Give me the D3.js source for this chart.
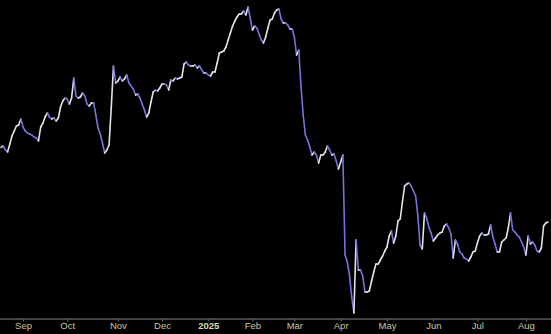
<!DOCTYPE html>
<html>
<head>
<meta charset="utf-8">
<script src="https://cdn.jsdelivr.net/npm/d3@7"></script>
<style>
    html, body { margin: 0; padding: 0; background: #000; }
    #price_chart { width: 551px; height: 334px; }
</style>
</head>
<body>
<div id="price_chart"></div>
<script>
// daily closes, one per trading day (19 Aug 2024 - 15 Aug 2025)
var closes = [
    186.3, 187, 185, 184, 188, 192, 194.5, 197, 197.5, 200.5,
    196.5, 194.5, 193.5, 193, 192.5, 191.5, 191, 189.5, 196.5, 198.5,
    201.5, 203.5, 201.5, 200.5, 201, 199.5, 201, 206.5, 209.5, 211,
    210.5, 208, 211, 221, 212, 211, 211.5, 213.5, 212, 208,
    207, 208.5, 208.5, 202.5, 196, 193, 188.5, 183.5, 185, 187.5,
    206.5, 227, 218.5, 219.5, 221.5, 219.5, 220.5, 222.5, 218.5, 217,
    215.5, 212.5, 213, 211, 208, 205, 201.5, 203.5, 209, 214,
    215, 214.5, 216, 218, 218, 217.5, 215, 220, 219.5, 221,
    220.5, 221, 221.5, 228, 229, 227.5, 227, 227, 227.5, 226,
    227, 225, 223.5, 223.5, 222.5, 222, 224, 224, 228.5, 233.5,
    234, 234.5, 236.5, 240, 243.5, 247, 249.5, 251.5, 253, 253,
    254.5, 252.5, 256.5, 251, 245, 247, 246, 243, 240, 238.5,
    241.5, 246, 250, 250.5, 253.5, 255, 255.5, 250.5, 248.5, 248.5,
    247.5, 245.5, 245.5, 241.5, 232.5, 235, 217, 202.5, 192.5, 190,
    186.5, 182.5, 184, 182.5, 178.5, 182.5, 182.5, 184, 187, 185,
    182.5, 183, 179.5, 175.5, 179, 182.5, 132.5, 129, 122.5, 111.5,
    103.5, 140, 125, 125, 122, 114, 114, 114.5, 119.5, 124,
    128, 128, 130, 132, 134.5, 136.5, 142, 144.5, 138.5, 142,
    149.5, 150.5, 159, 167, 168, 168.5, 167, 164.5, 162, 152,
    137.5, 135.5, 153.5, 151, 146.5, 143.5, 139.5, 141, 142.5, 143.5,
    144, 147, 148, 146, 143, 131, 140, 138, 134, 133,
    131, 130.5, 129.5, 131.5, 134, 134.5, 138.5, 142, 143.5, 142.5,
    142.5, 143, 147.5, 141.5, 138, 134, 134, 139, 140, 141,
    146, 153.5, 145, 144, 142.5, 141.5, 139, 136.5, 132.5, 142,
    138, 139, 137.5, 134.5, 134, 136, 147, 148.5, 149
];

// first trading day of each month, as index into closes
var monthIndex = [10, 30, 53, 73, 94, 114, 133, 154, 175, 196, 216, 238];
var monthLabels = ["Sep", "Oct", "Nov", "Dec", "2025", "Feb", "Mar", "Apr", "May", "Jun", "Jul", "Aug"];
var yearLabels = ["2025"];

priceVis = function(_parentElement) {
    this.parentElement = _parentElement;
    this.initVis();
}

priceVis.prototype.initVis = function() {
    var vis = this;
    vis.width = 551;
    vis.height = 334;
    vis.axisY = 319;

    vis.svg = d3.select("#" + vis.parentElement)
        .append("svg")
        .attr("width", vis.width)
        .attr("height", vis.height)
        .style("display", "block")
        .style("background", "#000");

    vis.x = d3.scaleLinear()
        .domain([0, closes.length - 1])
        .range([1, 548]);

    vis.y = d3.scaleLinear()
        .domain([100, 260])
        .range([320, 0]);

    vis.drawAxis();
    vis.drawLine();
}

priceVis.prototype.drawAxis = function() {
    var vis = this;

    vis.svg.append("line")
        .attr("x1", 0)
        .attr("x2", vis.width)
        .attr("y1", vis.axisY)
        .attr("y2", vis.axisY)
        .attr("stroke", "#5a5a5a")
        .attr("stroke-width", 1.5);

    var xAxis = d3.axisBottom(vis.x)
        .tickValues(monthIndex)
        .tickFormat(function(d, i) { return monthLabels[i]; })
        .tickSize(2)
        .tickPadding(1);

    var g = vis.svg.append("g")
        .attr("transform", "translate(0," + (vis.axisY + 0.5) + ")")
        .call(xAxis);

    g.select(".domain").remove();
    g.selectAll(".tick line").attr("stroke", "#777");
    g.selectAll(".tick text")
        .attr("fill", "#c9c79c")
        .style("font-family", "'Liberation Sans', Arial, sans-serif")
        .style("font-size", "9.5px")
        .style("font-weight", function(d, i) {
            return yearLabels.indexOf(monthLabels[i]) >= 0 ? "bold" : "normal";
        })
        .attr("fill", function(d, i) {
            return yearLabels.indexOf(monthLabels[i]) >= 0 ? "#dcdab0" : "#c9c79c";
        });
}

priceVis.prototype.drawLine = function() {
    var vis = this;
    var line = d3.line()
        .x(function(d) { return vis.x(d[0]); })
        .y(function(d) { return vis.y(d[1]); });

    // one short path per day, light when it closes up, blue when down
    var segments = [];
    for (var i = 1; i < closes.length; i++) {
        segments.push([[i - 1, closes[i - 1]], [i, closes[i]]]);
    }

    vis.svg.append("g")
        .selectAll("path")
        .data(segments)
        .enter()
        .append("path")
        .attr("d", line)
        .attr("fill", "none")
        .attr("stroke-width", 1.6)
        .attr("stroke-linecap", "round")
        .attr("stroke", function(d) {
            return d[1][1] >= d[0][1] ? "#e4e4e4" : "#7474dc";
        });
}

var priceChart = new priceVis("price_chart");
</script>
</body>
</html>
